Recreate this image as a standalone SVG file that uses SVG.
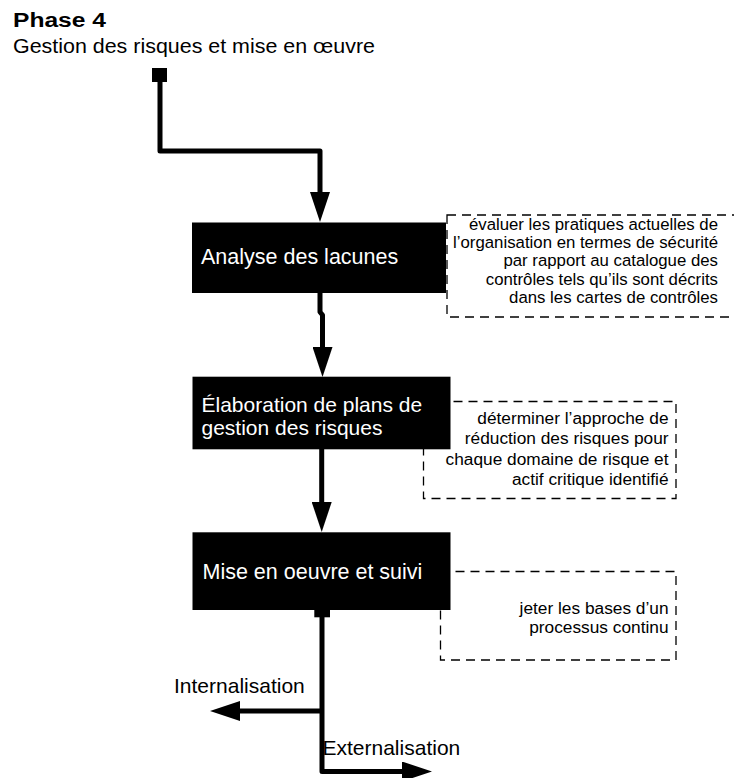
<svg xmlns="http://www.w3.org/2000/svg" width="734" height="778" viewBox="0 0 734 778">
  <style>
    text { font-family: "Liberation Sans", Arial, sans-serif; }
    .title { font-size: 20px; font-weight: bold; fill: #000; }
    .sub { font-size: 21px; fill: #000; }
    .box { fill: #000; }
    .label { font-size: 21.5px; fill: #fff; }
    .label2 { font-size: 21px; fill: #fff; }
    .note { fill: #fff; stroke: #000; stroke-width: 1.3; stroke-dasharray: 9 6; }
    .notetext { font-size: 17.3px; fill: #000; text-anchor: end; }
    .dense { font-size: 16.8px; }
    .flow { fill: none; stroke: #000; stroke-width: 5; stroke-linejoin: round; }
    .branch { font-size: 21px; fill: #000; }
  </style>
  <defs>
    <marker id="arrow" viewBox="0 0 30 20" markerWidth="30" markerHeight="20" refX="8" refY="10" orient="auto" markerUnits="userSpaceOnUse">
      <path d="M0,0 L30,10 L0,20 Z" fill="#000"/>
    </marker>
  </defs>

  <rect width="734" height="778" fill="#fff"/>

  <g id="heading">
    <text class="title" x="13" y="27" textLength="93" lengthAdjust="spacingAndGlyphs">Phase 4</text>
    <text class="sub" x="13" y="52.5" textLength="362" lengthAdjust="spacingAndGlyphs">Gestion des risques et mise en œuvre</text>
  </g>

  <!-- dashed notes sit behind the black step boxes -->
  <g id="note-lacunes">
    <rect class="note" x="447" y="215" width="300" height="102"/>
    <text class="notetext dense" x="718" y="230">évaluer les pratiques actuelles de</text>
    <text class="notetext dense" x="718" y="248.2">l’organisation en termes de sécurité</text>
    <text class="notetext dense" x="718" y="266.4">par rapport au catalogue des</text>
    <text class="notetext dense" x="718" y="284.6">contrôles tels qu’ils sont décrits</text>
    <text class="notetext dense" x="718" y="302.8">dans les cartes de contrôles</text>
  </g>
  <g id="note-plans">
    <rect class="note" x="423.5" y="401.5" width="252.5" height="97"/>
    <text class="notetext" x="668.5" y="424">déterminer l’approche de</text>
    <text class="notetext" x="668.5" y="444.3">réduction des risques pour</text>
    <text class="notetext" x="668.5" y="464.5">chaque domaine de risque et</text>
    <text class="notetext" x="668.5" y="484.5">actif critique identifié</text>
  </g>
  <g id="note-suivi">
    <rect class="note" x="440.5" y="571.5" width="235.5" height="88.5"/>
    <text class="notetext" x="668.5" y="614.3">jeter les bases d’un</text>
    <text class="notetext" x="668.5" y="632.8">processus continu</text>
  </g>

  <g id="step-analyse">
    <rect class="box" x="192" y="222.5" width="254" height="70.5"/>
    <text class="label" x="201" y="264">Analyse des lacunes</text>
  </g>
  <g id="step-plans">
    <rect class="box" x="192.5" y="376.7" width="258" height="72.6"/>
    <text class="label2" x="201.5" y="412">Élaboration de plans de</text>
    <text class="label2" x="201.5" y="435">gestion des risques</text>
  </g>
  <g id="step-suivi">
    <rect class="box" x="192.5" y="532.3" width="258" height="77.7"/>
    <text class="label" x="202.5" y="579">Mise en oeuvre et suivi</text>
  </g>

  <g id="connectors">
    <!-- entry point -->
    <rect x="152" y="68" width="15" height="14" fill="#000"/>
    <path class="flow" d="M160,80 L160,151 L320,151 L320,200" marker-end="url(#arrow)"/>
    <path class="flow" d="M320,293 L320,312 L322.5,315 L322.5,355" marker-end="url(#arrow)"/>
    <path class="flow" d="M321.7,449 L321.7,510" marker-end="url(#arrow)"/>
    <!-- exit split -->
    <rect x="314.3" y="609" width="15.7" height="8.3" fill="#000"/>
    <path class="flow" d="M322,616 L322,771.5 L410,771.5" marker-end="url(#arrow)"/>
    <path class="flow" d="M322,711 L232,711" marker-end="url(#arrow)"/>
    <text class="branch" x="174" y="692.7">Internalisation</text>
    <text class="branch" x="322.5" y="755">Externalisation</text>
  </g>
</svg>
